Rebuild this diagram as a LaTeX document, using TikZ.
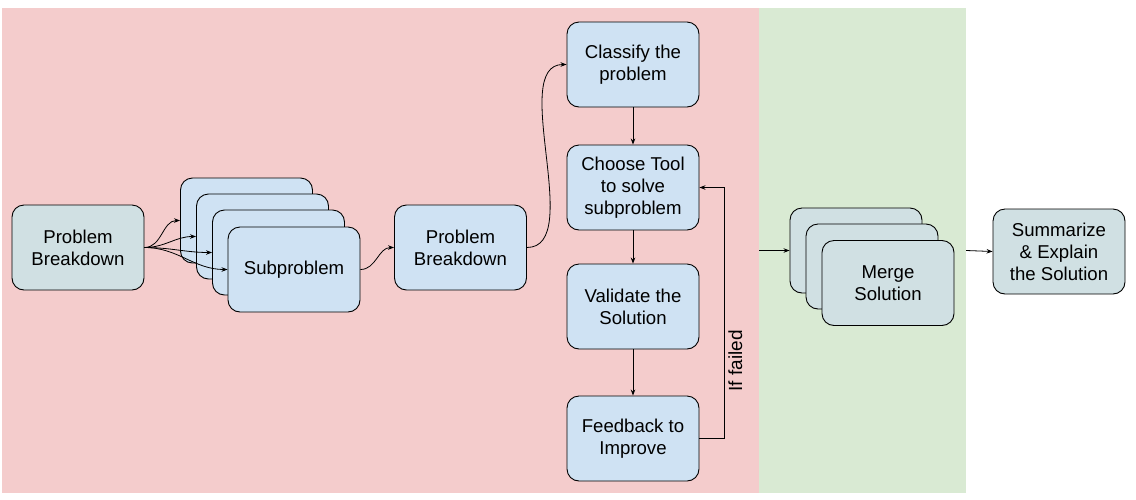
\documentclass[tikz,border=0pt]{standalone}
\usepackage{fontspec}
\setmainfont{Liberation Sans}
\usetikzlibrary{arrows.meta}
\definecolor{regionred}{HTML}{F4CCCC}
\definecolor{regiongreen}{HTML}{D9EAD3}
\definecolor{boxblue}{HTML}{CFE2F3}
\definecolor{boxgrey}{HTML}{D0E0E3}
\tikzset{
  card/.style={draw=black, line width=0.9pt, rounded corners=12pt,
    minimum width=132pt, minimum height=85pt, align=center,
    font=\fontsize{18.6}{22}\selectfont, inner sep=2pt},
  bluecard/.style={card, fill=boxblue},
  greycard/.style={card, fill=boxgrey},
  link/.style={-{Stealth[length=6pt,width=4.5pt]}, line width=0.8pt}
}
\begin{document}
\begin{tikzpicture}[x=1pt,y=-1pt]
  \useasboundingbox (0,0) rectangle (1136,499);
  % background regions
  \node[fill=regionred, minimum width=757pt, minimum height=485pt, inner sep=0pt] (solve) at (380.5,250.5) {};
  \node[fill=regiongreen, minimum width=207pt, minimum height=485pt, inner sep=0pt] (mergezone) at (862.5,250.5) {};
  % breakdown and subproblems
  \node[greycard] (pb1) at (78,247.5) {Problem\\Breakdown};
  \node[bluecard] (sub1) at (246.5,220.5) {};
  \node[bluecard] (sub2) at (262.5,236.5) {};
  \node[bluecard] (sub3) at (278.5,252.5) {};
  \node[bluecard] (sub4) at (294,269.5) {Subproblem};
  \node[bluecard] (pb2) at (460.5,247.5) {Problem\\Breakdown};
  % solving loop
  \node[bluecard] (classify) at (633,64.5) {Classify the\\problem};
  \node[bluecard] (choose) at (633,187.5) {Choose Tool\\to solve\\subproblem};
  \node[bluecard] (validate) at (633,306.5) {Validate the\\Solution};
  \node[bluecard] (feedback) at (633,438.5) {Feedback to\\Improve};
  % merging
  \node[greycard] (merge1) at (856,250.5) {};
  \node[greycard] (merge2) at (872,266.5) {};
  \node[greycard] (merge3) at (888,283) {Merge\\Solution};
  \node[greycard] (summary) at (1059,251.5) {Summarize\\\& Explain\\the Solution};
  \coordinate (loopcorner) at (724,438.5);
  % connectors
  \foreach \s in {sub1,sub2,sub3,sub4}
    \draw[link] (pb1.east) to[out=0,in=180] (\s.west);
  \draw[link] (sub4.east) to[out=0,in=180] (pb2.west);
  \draw[link] (pb2.east) to[out=0,in=180,looseness=0.8] (classify.west);
  \draw[link] (classify) -- (choose);
  \draw[link] (choose) -- (validate);
  \draw[link] (validate) -- (feedback);
  \draw[link] (feedback.east) -- (loopcorner) |- (choose.east)
    node[pos=0.155, rotate=90, anchor=north, inner sep=4pt, font=\fontsize{19}{22}\selectfont] (failed) {If failed};
  \draw[link] (solve.east) -- (merge1.west);
  \draw[link] (mergezone.east) -- (summary.west);
\end{tikzpicture}
\end{document}
